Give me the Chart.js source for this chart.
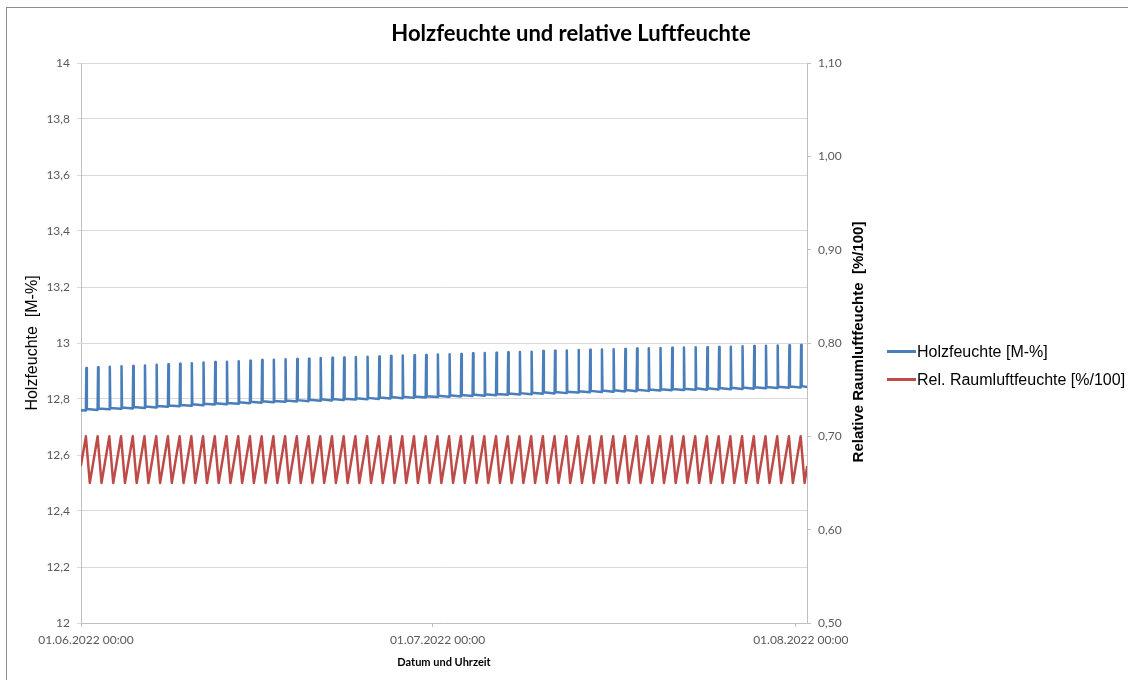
<!DOCTYPE html>
<html lang="de">
<head>
<meta charset="utf-8">
<title>Holzfeuchte und relative Luftfeuchte</title>
<script src="https://cdn.jsdelivr.net/npm/chart.js@4.4.1/dist/chart.umd.min.js"></script>
<style>
  html, body { margin: 0; padding: 0; background: #fff; }
  #wrap { position: relative; width: 1128px; height: 680px; overflow: hidden; }
  #rahmen { position: absolute; left: 6px; top: 7px; width: 1140px; height: 700px;
            border: 1px solid #8c8c8c; box-sizing: border-box; }
  #diagramm { position: absolute; left: 0; top: 0; }
  #titel { position: absolute; left: 321px; top: 19px; width: 500px; text-align: center;
           font: bold 22px Lato, "Liberation Sans", sans-serif; color: #000; line-height: 28px; }
  #rechtsTitel { position: absolute; left: 708px; top: 333px; width: 300px; height: 18px;
                 line-height: 18px; text-align: center; transform: rotate(-90deg);
                 font: bold 15px "Liberation Sans", Arial, sans-serif; color: #000; }
  .legEintrag { position: absolute; left: 887px; height: 20px; line-height: 20px;
                font: 16px "Liberation Sans", Arial, sans-serif; color: #000; white-space: nowrap; }
  .legEintrag span.linie { display: inline-block; width: 29px; height: 3px; vertical-align: middle;
                           margin-right: 1px; position: relative; top: -1px; }
</style>
</head>
<body>
<div id="wrap">
  <div id="rahmen"></div>
  <canvas id="diagramm" width="1128" height="680"></canvas>
  <div id="titel">Holzfeuchte und relative Luftfeuchte</div>
  <div id="rechtsTitel">Relative Raumluftfeuchte&nbsp;&nbsp;[%/100]</div>
  <div class="legEintrag" style="top:343px"><span class="linie" style="background:#4a7ebb"></span>Holzfeuchte [M-%]</div>
  <div class="legEintrag" style="top:371px"><span class="linie" style="background:#be4b48"></span>Rel. Raumluftfeuchte [%/100]</div>
</div>
<script>
// Messzeitraum: Stunden ab 01.06.2022 00:00 bis 01.08.2022 23:00
const endeStunde = 1487;
const spitzenStunde = 10;      // tägliche Spitze um 10:00
const luftMinStunde = 18;      // Minimum der Raumluftfeuchte um 18:00

// Beschriftung der Zeitachse
const xTickStunden = [0, 720, 1464];
const xTickTexte = ['01.06.2022 00:00', '01.07.2022 00:00', '01.08.2022 00:00'];

// Achsenbeschriftungen
const holzAchseWerte = [12, 12.2, 12.4, 12.6, 12.8, 13, 13.2, 13.4, 13.6, 13.8, 14];
const holzAchseTexte = ['12', '12,2', '12,4', '12,6', '12,8', '13', '13,2', '13,4', '13,6', '13,8', '14'];
const luftAchseWerte = [0.5, 0.6, 0.7, 0.8, 0.9, 1.0, 1.1];
const luftAchseTexte = ['0,50', '0,60', '0,70', '0,80', '0,90', '1,00', '1,10'];

// Holzfeuchte [M-%]: Startwert, je Tag Wert vor der Spitze, Spitze, Wert danach, Endwert
const holzStart = 12.760;
const holzVorSpitze = [
  12.759, 12.761, 12.763, 12.765, 12.766, 12.768, 12.770, 12.772, 12.774, 12.776,
  12.778, 12.780, 12.781, 12.783, 12.785, 12.787, 12.788, 12.790, 12.791, 12.792,
  12.794, 12.795, 12.796, 12.798, 12.799, 12.800, 12.802, 12.803, 12.804, 12.805,
  12.807, 12.808, 12.809, 12.811, 12.812, 12.813, 12.815, 12.816, 12.817, 12.819,
  12.820, 12.821, 12.823, 12.824, 12.825, 12.826, 12.827, 12.828, 12.829, 12.830,
  12.831, 12.832, 12.833, 12.833, 12.834, 12.835, 12.836, 12.837, 12.838, 12.839,
  12.840, 12.841
];
const holzSpitze = [
  12.911, 12.913, 12.915, 12.917, 12.918, 12.920, 12.922, 12.924, 12.926, 12.928,
  12.930, 12.932, 12.933, 12.935, 12.937, 12.939, 12.940, 12.942, 12.943, 12.944,
  12.946, 12.947, 12.948, 12.950, 12.951, 12.952, 12.954, 12.955, 12.956, 12.957,
  12.959, 12.960, 12.961, 12.963, 12.964, 12.965, 12.967, 12.968, 12.969, 12.971,
  12.972, 12.973, 12.975, 12.976, 12.977, 12.978, 12.979, 12.980, 12.981, 12.982,
  12.983, 12.984, 12.985, 12.985, 12.986, 12.987, 12.988, 12.989, 12.990, 12.991,
  12.992, 12.993
];
const holzNachSpitze = [
  12.764, 12.766, 12.768, 12.770, 12.771, 12.773, 12.775, 12.777, 12.779, 12.781,
  12.783, 12.785, 12.786, 12.788, 12.790, 12.792, 12.793, 12.795, 12.796, 12.797,
  12.799, 12.800, 12.801, 12.803, 12.804, 12.805, 12.807, 12.808, 12.809, 12.810,
  12.812, 12.813, 12.814, 12.816, 12.817, 12.818, 12.820, 12.821, 12.822, 12.824,
  12.825, 12.826, 12.828, 12.829, 12.830, 12.831, 12.832, 12.833, 12.834, 12.835,
  12.836, 12.837, 12.838, 12.838, 12.839, 12.840, 12.841, 12.842, 12.843, 12.844,
  12.845, 12.846
];
const holzEnde = 12.843;

// Relative Raumluftfeuchte [%/100]: Startwert, tägliches Maximum und Minimum, Endwert
const luftStart = 0.669;
const luftMax = [
  0.70, 0.70, 0.70, 0.70, 0.70, 0.70, 0.70, 0.70, 0.70, 0.70,
  0.70, 0.70, 0.70, 0.70, 0.70, 0.70, 0.70, 0.70, 0.70, 0.70,
  0.70, 0.70, 0.70, 0.70, 0.70, 0.70, 0.70, 0.70, 0.70, 0.70,
  0.70, 0.70, 0.70, 0.70, 0.70, 0.70, 0.70, 0.70, 0.70, 0.70,
  0.70, 0.70, 0.70, 0.70, 0.70, 0.70, 0.70, 0.70, 0.70, 0.70,
  0.70, 0.70, 0.70, 0.70, 0.70, 0.70, 0.70, 0.70, 0.70, 0.70,
  0.70, 0.70
];
const luftMin = [
  0.65, 0.65, 0.65, 0.65, 0.65, 0.65, 0.65, 0.65, 0.65, 0.65,
  0.65, 0.65, 0.65, 0.65, 0.65, 0.65, 0.65, 0.65, 0.65, 0.65,
  0.65, 0.65, 0.65, 0.65, 0.65, 0.65, 0.65, 0.65, 0.65, 0.65,
  0.65, 0.65, 0.65, 0.65, 0.65, 0.65, 0.65, 0.65, 0.65, 0.65,
  0.65, 0.65, 0.65, 0.65, 0.65, 0.65, 0.65, 0.65, 0.65, 0.65,
  0.65, 0.65, 0.65, 0.65, 0.65, 0.65, 0.65, 0.65, 0.65, 0.65,
  0.65, 0.65
];
const luftEnde = 0.667;

// Punktfolgen für die beiden Linien aufbauen
const holzPunkte = [{ x: 0, y: holzStart }];
holzSpitze.forEach((s, d) => {
  const h = d * 24 + spitzenStunde;
  holzPunkte.push({ x: h, y: holzVorSpitze[d] });
  holzPunkte.push({ x: h + 1, y: s });
  holzPunkte.push({ x: h + 2, y: holzNachSpitze[d] });
});
holzPunkte.push({ x: endeStunde, y: holzEnde });

const luftPunkte = [{ x: 0, y: luftStart }];
luftMax.forEach((m, d) => {
  luftPunkte.push({ x: d * 24 + spitzenStunde, y: m });
  luftPunkte.push({ x: d * 24 + luftMinStunde, y: luftMin[d] });
});
luftPunkte.push({ x: endeStunde, y: luftEnde });

const tickFont = { family: 'Lato', size: 12 };
const tickFarbe = '#595959';
const achsFarbe = '#bfbfbf';

new Chart(document.getElementById('diagramm'), {
  type: 'line',
  data: {
    datasets: [
      { label: 'Holzfeuchte [M-%]', data: holzPunkte, yAxisID: 'yHolz',
        borderColor: '#4a7ebb', borderWidth: 2.5, borderJoinStyle: 'round', borderCapStyle: 'round',
        pointRadius: 0, tension: 0, fill: false },
      { label: 'Rel. Raumluftfeuchte [%/100]', data: luftPunkte, yAxisID: 'yLuft',
        borderColor: '#be4b48', borderWidth: 2.5, borderJoinStyle: 'round', borderCapStyle: 'round',
        pointRadius: 0, tension: 0, fill: false }
    ]
  },
  options: {
    responsive: false,
    devicePixelRatio: 1,
    animation: false,
    parsing: false,
    layout: { padding: { left: 20, right: 251, top: 63, bottom: 0 } },
    plugins: { legend: { display: false }, title: { display: false }, tooltip: { enabled: false } },
    scales: {
      x: {
        type: 'linear', min: 0, max: endeStunde,
        afterBuildTicks: s => { s.ticks = xTickStunden.map(v => ({ value: v })); },
        afterFit: s => { s.height = 57; },
        grid: { display: true, drawOnChartArea: false, tickLength: 4, color: achsFarbe },
        border: { color: achsFarbe },
        ticks: { autoSkip: false, maxRotation: 0, padding: 6, labelOffset: 5, font: tickFont, color: tickFarbe,
                 callback: v => xTickTexte[xTickStunden.indexOf(v)] },
        title: { display: true, text: 'Datum und Uhrzeit', color: '#000',
                 font: { family: 'Lato', size: 11, weight: 'bold' }, padding: { top: 0, bottom: 11 } }
      },
      yHolz: {
        position: 'left', min: 12, max: 14,
        afterBuildTicks: s => { s.ticks = holzAchseWerte.map(v => ({ value: v })); },
        afterFit: s => { s.width = 61; },
        grid: { color: '#d9d9d9', lineWidth: 1, tickLength: 4, drawTicks: true },
        border: { color: achsFarbe },
        ticks: { autoSkip: false, padding: 7, font: tickFont, color: tickFarbe,
                 callback: (v, i) => holzAchseTexte[i] },
        title: { display: true, text: 'Holzfeuchte  [M-%]', color: '#000',
                 font: { family: 'Liberation Sans', size: 16 }, padding: { top: 3, bottom: 0 } }
      },
      yLuft: {
        position: 'right', min: 0.5, max: 1.1,
        afterBuildTicks: s => { s.ticks = luftAchseWerte.map(v => ({ value: v })); },
        afterFit: s => { s.width = 70; },
        grid: { drawOnChartArea: false, tickLength: 4, color: achsFarbe },
        border: { color: achsFarbe },
        ticks: { autoSkip: false, padding: 7, font: tickFont, color: tickFarbe,
                 callback: (v, i) => luftAchseTexte[i] }
      }
    }
  }
});
</script>
</body>
</html>
